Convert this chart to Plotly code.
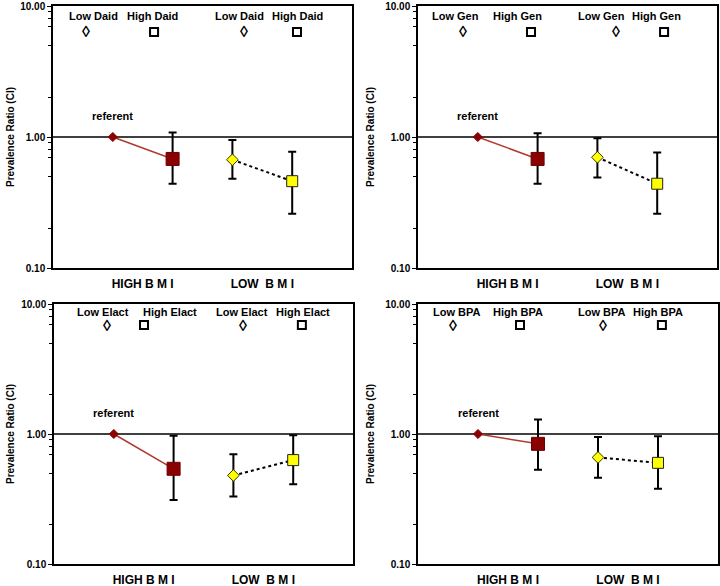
import math
import plotly.graph_objects as go

# ---------------- data ----------------
exposures = ["Daid", "Gen", "Elact", "BPA"]
bmi_groups = ["HIGH B M I", "LOW\u00a0\u00a0B M I"]
referent_value = 1.0

high_bmi_high_exp = [0.68, 0.68, 0.54, 0.84]
high_bmi_high_exp_lo = [0.44, 0.44, 0.31, 0.53]
high_bmi_high_exp_hi = [1.08, 1.07, 0.97, 1.29]

low_bmi_low_exp = [0.67, 0.70, 0.48, 0.66]
low_bmi_low_exp_lo = [0.48, 0.49, 0.33, 0.46]
low_bmi_low_exp_hi = [0.95, 0.98, 0.70, 0.95]

low_bmi_high_exp = [0.46, 0.44, 0.63, 0.60]
low_bmi_high_exp_lo = [0.26, 0.26, 0.41, 0.38]
low_bmi_high_exp_hi = [0.77, 0.76, 0.98, 0.96]

y_tick_vals = [0.1, 1, 10]
y_tick_text = ["0.10", "1.00", "10.00"]
y_minor_vals = [0.2, 0.5, 0.7, 0.8, 0.9, 2, 5, 7, 8, 9]

# ---------------- layout geometry ----------------
W, H = 720, 586
FONT = "Liberation Sans, Arial, sans-serif"
panel_px_x = [(53, 352), (418, 717), (54, 353), (418, 718)]
panel_px_y = [(6, 268), (6, 268), (304, 564), (304, 564)]
ytitle_px_x = [10, 370, 10, 370]

# legend-key positions inside each panel (fractions of the plot area)
key_text_x = [[0.134, 0.334, 0.625, 0.819], [0.124, 0.334, 0.615, 0.796],
              [0.164, 0.388, 0.629, 0.833], [0.130, 0.333, 0.613, 0.800]]
key_sym_x = [[0.110, 0.338, 0.639, 0.816], [0.151, 0.378, 0.662, 0.823],
             [0.177, 0.301, 0.632, 0.829], [0.117, 0.340, 0.617, 0.813]]
key_text_y = [0.962, 0.962, 0.969, 0.969]
key_sym_y = [0.901, 0.901, 0.919, 0.919]

DARK_RED = "#8B0000"
LINE_RED = "#B03A2E"
YELLOW = "#FFFF00"

fig = go.Figure()
annotations = []
shapes = []

for i, exp in enumerate(exposures):
    xa = "x" if i == 0 else f"x{i+1}"
    ya = "y" if i == 0 else f"y{i+1}"
    xkey = "xaxis" if i == 0 else f"xaxis{i+1}"
    ykey = "yaxis" if i == 0 else f"yaxis{i+1}"

    # high BMI: referent -> high exposure (solid red line)
    fig.add_trace(go.Scatter(
        x=[1, 2], y=[referent_value, high_bmi_high_exp[i]], xaxis=xa, yaxis=ya,
        mode="lines", line=dict(color=LINE_RED, width=1.5),
        showlegend=False, hoverinfo="skip"))
    fig.add_trace(go.Scatter(
        x=[2], y=[high_bmi_high_exp[i]], xaxis=xa, yaxis=ya, mode="markers",
        marker=dict(symbol="square", size=13, color=DARK_RED,
                    line=dict(color="#6a0000", width=1)),
        error_y=dict(type="data", symmetric=False,
                     array=[high_bmi_high_exp_hi[i] - high_bmi_high_exp[i]],
                     arrayminus=[high_bmi_high_exp[i] - high_bmi_high_exp_lo[i]],
                     color="black", thickness=2, width=4),
        showlegend=False))
    fig.add_trace(go.Scatter(
        x=[1], y=[referent_value], xaxis=xa, yaxis=ya, mode="markers",
        marker=dict(symbol="diamond", size=7, color=DARK_RED,
                    line=dict(color=DARK_RED, width=1)),
        showlegend=False))

    # low BMI: low exposure -> high exposure (dotted black line)
    fig.add_trace(go.Scatter(
        x=[3, 4], y=[low_bmi_low_exp[i], low_bmi_high_exp[i]], xaxis=xa, yaxis=ya,
        mode="lines", line=dict(color="black", width=2, dash="dot"),
        showlegend=False, hoverinfo="skip"))
    fig.add_trace(go.Scatter(
        x=[3], y=[low_bmi_low_exp[i]], xaxis=xa, yaxis=ya, mode="markers",
        marker=dict(symbol="diamond", size=9, color=YELLOW,
                    line=dict(color="#333300", width=1)),
        error_y=dict(type="data", symmetric=False,
                     array=[low_bmi_low_exp_hi[i] - low_bmi_low_exp[i]],
                     arrayminus=[low_bmi_low_exp[i] - low_bmi_low_exp_lo[i]],
                     color="black", thickness=2, width=4),
        showlegend=False))
    fig.add_trace(go.Scatter(
        x=[4], y=[low_bmi_high_exp[i]], xaxis=xa, yaxis=ya, mode="markers",
        marker=dict(symbol="square", size=11, color=YELLOW,
                    line=dict(color="#222222", width=1)),
        error_y=dict(type="data", symmetric=False,
                     array=[low_bmi_high_exp_hi[i] - low_bmi_high_exp[i]],
                     arrayminus=[low_bmi_high_exp[i] - low_bmi_high_exp_lo[i]],
                     color="black", thickness=2, width=4),
        showlegend=False))

    x0, x1 = panel_px_x[i]
    y0, y1 = panel_px_y[i]
    pw, ph = x1 - x0, y1 - y0
    fig.layout[xkey] = dict(
        domain=[x0 / W, x1 / W], range=[0, 5], anchor=ya,
        tickmode="array", tickvals=[1.5, 3.5], ticktext=bmi_groups,
        ticks="outside", ticklen=4, tickcolor="rgba(0,0,0,0)",
        tickfont=dict(family=FONT, size=12, color="black", weight="bold"),
        showline=True, linecolor="black", linewidth=1.5, mirror=True,
        showgrid=False, zeroline=False, automargin=False, fixedrange=True)
    fig.layout[ykey] = dict(
        domain=[1 - y1 / H, 1 - y0 / H], type="log", range=[-1, 1], anchor=xa,
        tickmode="array", tickvals=y_tick_vals, ticktext=y_tick_text,
        ticks="outside", ticklen=4, tickcolor="black", tickwidth=1,
        minor=dict(tickmode="array", tickvals=y_minor_vals, ticks="outside",
                   ticklen=3, tickcolor="black", tickwidth=1, showgrid=False),
        tickfont=dict(family=FONT, size=10, color="black", weight="bold"),
        showline=True, linecolor="black", linewidth=1.5, mirror=True,
        showgrid=False, zeroline=False, automargin=False, fixedrange=True)

    # reference line at the referent value (log axis range -1..1)
    ref_frac = (math.log10(referent_value) - (-1)) / 2
    shapes.append(dict(type="line", xref=f"{xa} domain", yref=f"{ya} domain",
                       x0=0, x1=1, y0=ref_frac, y1=ref_frac,
                       line=dict(color="black", width=1.5), layer="below"))

    # "referent" label above the referent point
    annotations.append(dict(text="referent", xref=xa, yref=ya, x=1,
                            y=math.log10(referent_value), yshift=21,
                            showarrow=False,
                            font=dict(family=FONT, size=11, color="black", weight="bold")))

    # y-axis title
    annotations.append(dict(text="Prevalence Ratio (CI)", xref="paper", yref="paper",
                            x=ytitle_px_x[i] / W, y=1 - (y0 + y1) / 2 / H,
                            textangle=-90, showarrow=False, xanchor="center", yanchor="middle",
                            font=dict(family=FONT, size=10, color="black", weight="bold")))

    # legend keys: labels, open diamond glyphs and open square outlines
    key_labels = [f"Low {exp}", f"High {exp}", f"Low {exp}", f"High {exp}"]
    half_w, half_h = 4.0 / pw, 4.0 / ph
    for k in range(4):
        annotations.append(dict(text=key_labels[k], xref=f"{xa} domain", yref=f"{ya} domain",
                                x=key_text_x[i][k], y=key_text_y[i], showarrow=False,
                                xanchor="center", yanchor="middle",
                                font=dict(family=FONT, size=11, color="black", weight="bold")))
        sx, sy = key_sym_x[i][k], key_sym_y[i]
        if k % 2 == 0:
            annotations.append(dict(text="\u25CA", xref=f"{xa} domain", yref=f"{ya} domain",
                                    x=sx, y=sy, showarrow=False,
                                    xanchor="center", yanchor="middle",
                                    font=dict(family=FONT, size=16, color="black",
                                              weight="bold")))
        else:
            shapes.append(dict(type="rect", xref=f"{xa} domain", yref=f"{ya} domain",
                               x0=sx - half_w, x1=sx + half_w,
                               y0=sy - half_h, y1=sy + half_h,
                               line=dict(color="black", width=2),
                               fillcolor="white"))

fig.update_layout(
    width=W, height=H, margin=dict(l=0, r=0, t=0, b=0),
    paper_bgcolor="white", plot_bgcolor="white",
    showlegend=False, annotations=annotations, shapes=shapes,
    font=dict(family=FONT, color="black"))

fig.write_html("out.html", config={"displayModeBar": False},
               post_script="document.body.style.margin='0';document.body.style.padding='0';")
